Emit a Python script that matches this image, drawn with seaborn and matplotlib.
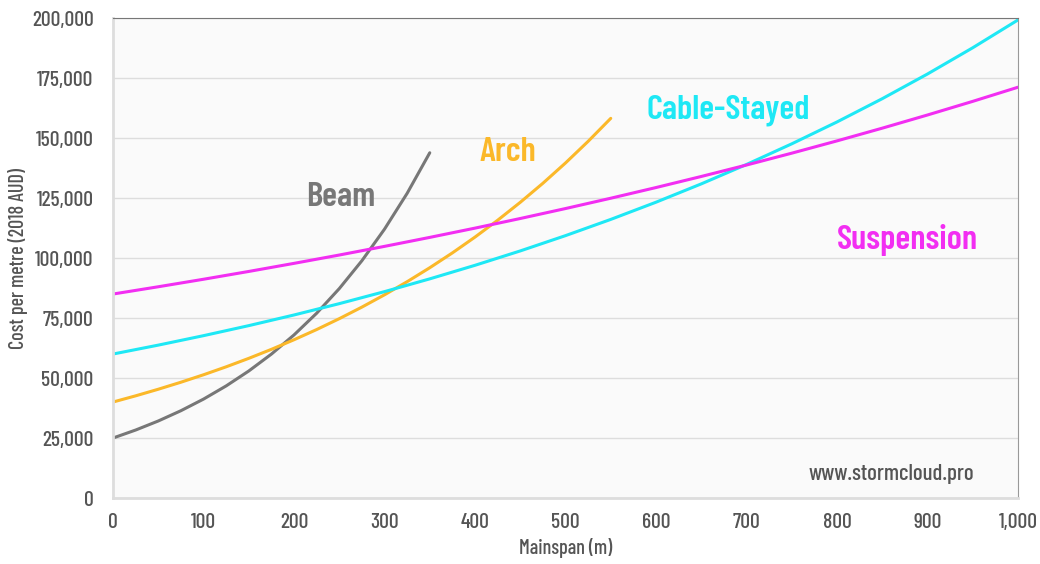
import pandas as pd
import matplotlib.pyplot as plt
import matplotlib.ticker as mticker
import seaborn as sns

# Cost per metre (AUD 2018)
beam_span = [0, 25, 50, 75, 100, 125, 150, 175, 200, 225, 250, 275, 300, 325, 350]
beam_cost = [25000, 28330, 32100, 36380, 41220, 46710, 52930, 59970, 67960,
             77000, 87260, 98880, 112040, 126960, 143860]

arch_span = [0, 25, 50, 75, 100, 125, 150, 175, 200, 225, 250, 275, 300, 325,
             350, 375, 400, 425, 450, 475, 500, 525, 550]
arch_cost = [40000, 42580, 45330, 48250, 51360, 54670, 58200, 61950, 65950,
             70200, 74730, 79550, 84680, 90140, 95960, 102140, 108730, 115740,
             123210, 131150, 139610, 148620, 158200]

long_span = [0, 50, 100, 150, 200, 250, 300, 350, 400, 450, 500, 550, 600,
             650, 700, 750, 800, 850, 900, 950, 1000]
cable_cost = [60000, 63710, 67650, 71830, 76270, 80990, 86000, 91320, 96970,
              102960, 109330, 116090, 123260, 130890, 138980, 147580, 156700,
              166390, 176680, 187610, 199200]
susp_cost = [85000, 88030, 91160, 94410, 97780, 101250, 104860, 108600, 112460,
             116470, 120620, 124920, 129370, 133980, 138750, 143690, 148810,
             154110, 159600, 165280, 171170]

x_ticks = [0, 100, 200, 300, 400, 500, 600, 700, 800, 900, 1000]
y_ticks = [0, 25000, 50000, 75000, 100000, 125000, 150000, 175000, 200000]

df = pd.concat([
    pd.DataFrame({'span': beam_span, 'cost': beam_cost, 'type': 'Beam'}),
    pd.DataFrame({'span': arch_span, 'cost': arch_cost, 'type': 'Arch'}),
    pd.DataFrame({'span': long_span, 'cost': cable_cost, 'type': 'Cable-Stayed'}),
    pd.DataFrame({'span': long_span, 'cost': susp_cost, 'type': 'Suspension'}),
])

colors = {'Beam': '#777777', 'Arch': '#fbb829', 'Cable-Stayed': '#1ee8f5',
          'Suspension': '#f22ef2'}

sns.set_style('white')
plt.rcParams['font.family'] = ['Barlow Condensed', 'DejaVu Sans']

fig = plt.figure(figsize=(10.4, 5.64), dpi=100)
ax = fig.add_axes([0.1087, 0.117, 0.8701, 0.851])
ax.set_facecolor('#fafafa')

sns.lineplot(data=df, x='span', y='cost', hue='type', palette=colors,
             linewidth=2.2, legend=False, ax=ax, sort=False)

ax.set_xlim(0, 1000)
ax.set_ylim(0, 200000)
ax.set_xticks(x_ticks)
ax.set_yticks(y_ticks)
ax.xaxis.set_major_formatter(mticker.StrMethodFormatter('{x:,.0f}'))
ax.yaxis.set_major_formatter(mticker.StrMethodFormatter('{x:,.0f}'))
ax.tick_params(length=0, labelsize=15.5, colors='#555555')
ax.tick_params(axis='y', pad=14)
ax.tick_params(axis='x', pad=11)
for lbl in ax.get_xticklabels() + ax.get_yticklabels():
    lbl.set_fontweight('medium')
ax.grid(axis='y', color='#dddddd', linewidth=1)
ax.set_axisbelow(True)

ax.set_xlabel('Mainspan (m)', fontsize=14.5, color='#555555', labelpad=4,
              fontweight='medium')
ax.set_ylabel('Cost per metre (2018 AUD)', fontsize=14.5, color='#555555',
              labelpad=3, fontweight='medium')

ax.spines['top'].set_color('#777777')
ax.spines['right'].set_color('#999999')
for s in ['left', 'bottom']:
    ax.spines[s].set_color('#dddddd')
    ax.spines[s].set_linewidth(2)

# series labels
label_pos = {'Beam': (252, 125400), 'Arch': (436, 143800),
             'Cable-Stayed': (680, 161700), 'Suspension': (878, 107500)}
for name, (lx, ly) in label_pos.items():
    ax.text(lx, ly, name, color=colors[name], fontsize=25, fontweight='semibold',
            ha='center', va='center')

ax.text(0.952, 0.03, 'www.stormcloud.pro', transform=ax.transAxes,
        fontsize=16.5, color='#555555', ha='right', va='bottom', fontweight='medium')

fig.savefig('out.png', dpi=100)
